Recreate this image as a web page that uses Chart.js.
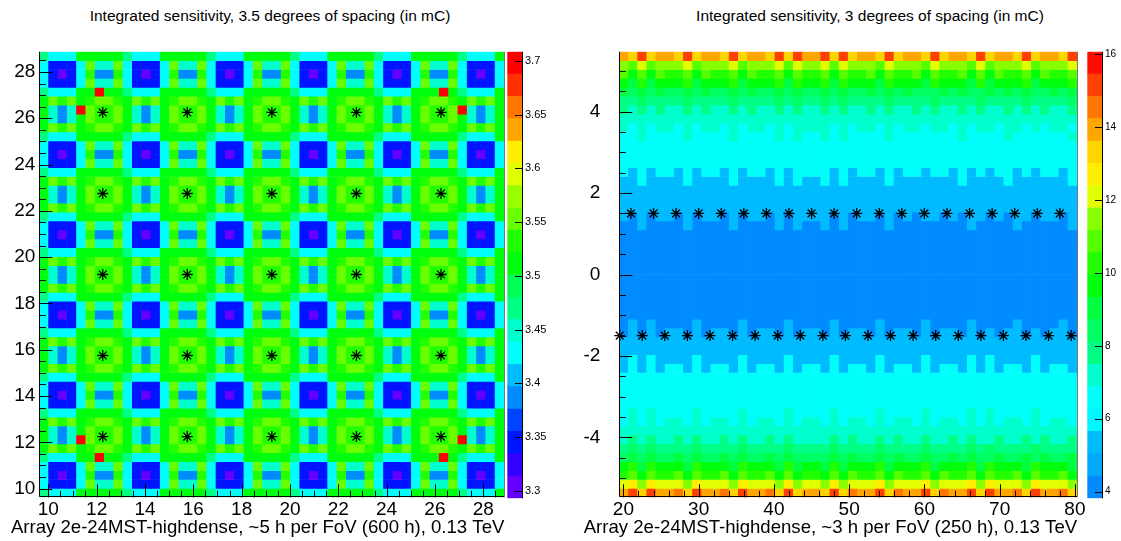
<!DOCTYPE html>
<html>
<head>
<meta charset="utf-8">
<title>Integrated sensitivity maps</title>
<script src="https://cdn.jsdelivr.net/npm/chart.js@4.4.1/dist/chart.umd.min.js"></script>
<style>
  html, body { margin: 0; padding: 0; background: #fff; }
  body { position: relative; width: 1121px; height: 541px; overflow: hidden;
         font-family: "Liberation Sans", Arial, sans-serif; }
  canvas { position: absolute; top: 0; }
  .title { position: absolute; top: 7px; font-size: 15.5px; line-height: 18px; white-space: nowrap;
           transform: translateX(-50%); color: #000; }
</style>
</head>
<body>
<div class="title" style="left:270px">Integrated sensitivity, 3.5 degrees of spacing (in mC)</div>
<div class="title" style="left:870px">Integrated sensitivity, 3 degrees of spacing (in mC)</div>
<canvas id="mapA" width="540" height="541" style="left:0"></canvas>
<canvas id="paletteA" width="55" height="541" style="left:505px"></canvas>
<canvas id="mapB" width="527" height="541" style="left:560px"></canvas>
<canvas id="paletteB" width="36" height="541" style="left:1085px"></canvas>
<script>
// ---------- 3.5 degree spacing map ----------
const mapA_xRange = [9.625, 28.875];
const mapA_yRange = [9.625, 28.875];
const mapA_zRange = [3.2932, 3.7084];
const mapA_xTicks = [10, 12, 14, 16, 18, 20, 22, 24, 26, 28];
const mapA_yTicks = [10, 12, 14, 16, 18, 20, 22, 24, 26, 28];
const mapA_zTicks = [3.3, 3.35, 3.4, 3.45, 3.5, 3.55, 3.6, 3.65, 3.7];
const mapA_starX = [12.25, 15.75, 19.25, 22.75, 26.25];
const mapA_starY = [12.25, 15.75, 19.25, 22.75, 26.25];
// contour level of each bin (0..j = 20 levels), top row first
const mapA_levels = [
  "8666aaaaa8666aaaaa8666aaaaa8666aaaaa8666aaaaa8666a",
  "62226c77c62226c77c62226c77c62226c77c62226c77c62226",
  "62026b44b62026b44b62026b44b62026b44b62026b44b62026",
  "62226c77c62226c77c62226c77c62226c77c62226c77c62226",
  "8666aajaa8666aaaaa8666aaaaa8666aaaaa8666aaaja8666a",
  "acbcabccbacbcabccbacbcabccbacbcabccbacbcabccbacbca",
  "a747jcbbca747acbbca747acbbca747acbbca747acbbcj747a",
  "a747acbbca747acbbca747acbbca747acbbca747acbbca747a",
  "acbcabccbacbcabccbacbcabccbacbcabccbacbcabccbacbca",
  "8666aaaaa8666aaaaa8666aaaaa8666aaaaa8666aaaaa8666a",
  "62226c77c62226c77c62226c77c62226c77c62226c77c62226",
  "62026b44b62026b44b62026b44b62026b44b62026b44b62026",
  "62226c77c62226c77c62226c77c62226c77c62226c77c62226",
  "8666aaaaa8666aaaaa8666aaaaa8666aaaaa8666aaaaa8666a",
  "acbcabccbacbcabccbacbcabccbacbcabccbacbcabccbacbca",
  "a747acbbca747acbbca747acbbca747acbbca747acbbca747a",
  "a747acbbca747acbbca747acbbca747acbbca747acbbca747a",
  "acbcabccbacbcabccbacbcabccbacbcabccbacbcabccbacbca",
  "8666aaaaa8666aaaaa8666aaaaa8666aaaaa8666aaaaa8666a",
  "62226c77c62226c77c62226c77c62226c77c62226c77c62226",
  "62026b44b62026b44b62026b44b62026b44b62026b44b62026",
  "62226c77c62226c77c62226c77c62226c77c62226c77c62226",
  "8666aaaaa8666aaaaa8666aaaaa8666aaaaa8666aaaaa8666a",
  "acbcabccbacbcabccbacbcabccbacbcabccbacbcabccbacbca",
  "a747acbbca747acbbca747acbbca747acbbca747acbbca747a",
  "a747acbbca747acbbca747acbbca747acbbca747acbbca747a",
  "acbcabccbacbcabccbacbcabccbacbcabccbacbcabccbacbca",
  "8666aaaaa8666aaaaa8666aaaaa8666aaaaa8666aaaaa8666a",
  "62226c77c62226c77c62226c77c62226c77c62226c77c62226",
  "62026b44b62026b44b62026b44b62026b44b62026b44b62026",
  "62226c77c62226c77c62226c77c62226c77c62226c77c62226",
  "8666aaaaa8666aaaaa8666aaaaa8666aaaaa8666aaaaa8666a",
  "acbcabccbacbcabccbacbcabccbacbcabccbacbcabccbacbca",
  "a747acbbca747acbbca747acbbca747acbbca747acbbca747a",
  "a747acbbca747acbbca747acbbca747acbbca747acbbca747a",
  "acbcabccbacbcabccbacbcabccbacbcabccbacbcabccbacbca",
  "8666aaaaa8666aaaaa8666aaaaa8666aaaaa8666aaaaa8666a",
  "62226c77c62226c77c62226c77c62226c77c62226c77c62226",
  "62026b44b62026b44b62026b44b62026b44b62026b44b62026",
  "62226c77c62226c77c62226c77c62226c77c62226c77c62226",
  "8666aaaaa8666aaaaa8666aaaaa8666aaaaa8666aaaaa8666a",
  "acbcabccbacbcabccbacbcabccbacbcabccbacbcabccbacbca",
  "a747acbbca747acbbca747acbbca747acbbca747acbbca747a",
  "a747jcbbca747acbbca747acbbca747acbbca747acbbcj747a",
  "acbcabccbacbcabccbacbcabccbacbcabccbacbcabccbacbca",
  "8666aajaa8666aaaaa8666aaaaa8666aaaaa8666aaaja8666a",
  "62226c77c62226c77c62226c77c62226c77c62226c77c62226",
  "62026b44b62026b44b62026b44b62026b44b62026b44b62026",
  "62226c77c62226c77c62226c77c62226c77c62226c77c62226",
  "8666aaaaa8666aaaaa8666aaaaa8666aaaaa8666aaaaa8666a"
];

// ---------- 3 degree spacing map ----------
const mapB_xRange = [19.45, 80.3];
const mapB_yRange = [-5.47, 5.47];
const mapB_zRange = [3.819, 16.06];
const mapB_xTicks = [20, 30, 40, 50, 60, 70, 80];
const mapB_yTicks = [-4, -2, 0, 2, 4];
const mapB_zTicks = [4, 6, 8, 10, 12, 14, 16];
const mapB_starTopX = [21, 24, 27, 30, 33, 36, 39, 42, 45, 48,
                       51, 54, 57, 60, 63, 66, 69, 72, 75, 78];
const mapB_starBottomX = [19.5, 22.5, 25.5, 28.5, 31.5, 34.5, 37.5, 40.5, 43.5, 46.5, 49.5,
                          52.5, 55.5, 58.5, 61.5, 64.5, 67.5, 70.5, 73.5, 76.5, 79.5];
const mapB_starRowsY = [1.5, -1.5];
const mapB_levels = [
  "gfifggfifggfifggfifiggififggfifggfifggfifggfifggfi",
  "cbdbcccdbcccdbcccdbdccdbdcccbdcccbdcccbdbcccdbcccd",
  "b9b9baab9baab9baab9baab9baab9baab9baab9b9baab9baab",
  "98a8999a8999a8999a8a99a8a9998a9998a9998a8999a8999a",
  "87878778787787877878778787787878777878778787877878",
  "66766667666676666767667676666766667666676666766667",
  "65656556565565655656556565565655656556565565656556",
  "55555555555555555555555555555555555555555555555555",
  "54545545455454554545555454554545545545455455454554",
  "44544445444454444545445454444544444445444454444445",
  "44444444444444444444444444444444444444444444444444",
  "44444444444444444444444444444444444444444444444444",
  "44444444444444444444444444444444444444444444444444",
  "42424424244242442424444242442424424424242442424424",
  "22422224222242222424224242222422222224222242222224",
  "22222222222222222222222222222222222222222222222222",
  "22222222222222222222222222222222222222222222222222",
  "22222222222222222222222222222222222222222222222222",
  "20202202022020220202222020220202022020220202202202",
  "00200002000020000202002020000200000000200002000002",
  "00000000000000000000000000000000000000000000000000",
  "00000000000000000000000000000000000000000000000000",
  "00000000000000000000000000000000000000000000000000",
  "00000000000000000000000000000000000000000000000000",
  "00000000000000000000000000000000000000000000000000",
  "00000000000000000000000000000000000000000000000000",
  "00000000000000000000000000000000000000000000000000",
  "00000000000000000000000000000000000000000000000000",
  "00000000000000000000000000000000000000000000000000",
  "00000000000000000000000000000000000000000000000000",
  "02020000200002000020000200002000020000200002000020",
  "02020220202202022020220202202022020220202022020220",
  "22222222222222222222222222222222222222222222222222",
  "22222222222222222222222222222222222222222222222222",
  "24242222422224222242222422224222242222424222242222",
  "24242442424424244242442424424244242442424244242442",
  "44444444444444444444444444444444444444444444444444",
  "44444444444444444444444444444444444444444444444444",
  "44444444444444444444444444444444444444444444444444",
  "44444444444444444444444444444444444444444444444444",
  "45454444544445444454444544445444454444545444454444",
  "45454554545545455454554545545455454554545455454554",
  "55555555555555555555555555555555555555555555555555",
  "56565565655656556565555656556565565565655655656556",
  "67676666766667666676666766667666676666767666676666",
  "78787787877878778787777878778787787787877877878778",
  "9a8a9998a9998a9998a8998a8999a8999a8999a8a9998a9998",
  "ab9baab9baab9baab9b9aa9b9baab9baab9baab9baab9baab9",
  "decedddcedddcedddcecddcecdddecdddecdddecedddcedddc",
  "gifigghfigghfigghfifggfifhggifhggifhggifigghfigghf"
];

const N_LEVELS = 20;

// ROOT "pretty" palette: 50 hues from violet to red, sampled per contour level
function prettyPalette(n) {
  const out = [];
  for (let k = 0; k < n; k++) {
    const idx = Math.floor((k + 0.99) * 50 / n);
    out.push(`hsl(${280 - (idx + 1) * 5.6}, 100%, 50%)`);
  }
  return out;
}
const paletteA = prettyPalette(N_LEVELS);
// colour scale of the 3 degree map starts at azure
const paletteB = [207, 200, 196, 182, 179, 168, 151, 143, 135, 123,
                  112, 100, 88, 67, 56, 50, 39, 28, 15, 3].map(h => `hsl(${h}, 100%, 50%)`);

const FONT = '"Liberation Sans", Arial, sans-serif';
Chart.defaults.font.family = FONT;
Chart.defaults.color = '#000';
Chart.defaults.animation = false;

// inward ROOT-style tick marks, axis lines and the right-aligned x title
const rootFrame = {
  id: 'rootFrame',
  afterDatasetsDraw(chart, args, o) {
    const { ctx, chartArea: a, scales: { x, y } } = chart;
    ctx.save();
    ctx.strokeStyle = '#000';
    ctx.lineWidth = 1;
    ctx.beginPath();
    const each = (scale, step, major, fn) => {
      for (let i = Math.ceil(scale.min / step - 1e-6); i * step <= scale.max + 1e-9; i++) {
        const v = i * step;
        const isMajor = Math.abs(v / major - Math.round(v / major)) < 1e-6;
        fn(Math.round(scale.getPixelForValue(v)) + 0.5, isMajor);
      }
    };
    each(x, o.xMinor, o.xMajor, (px, big) => {
      ctx.moveTo(px, a.bottom);
      ctx.lineTo(px, a.bottom - (big ? o.majorLen : o.minorLen));
    });
    each(y, o.yMinor, o.yMajor, (py, big) => {
      ctx.moveTo(a.left, py);
      ctx.lineTo(a.left + (big ? o.majorLen : o.minorLen), py);
    });
    const l = Math.floor(a.left) + 0.5, b = Math.round(a.bottom) - 0.5;
    ctx.moveTo(l, a.top); ctx.lineTo(l, b); ctx.lineTo(a.right, b);
    ctx.stroke();
    ctx.strokeStyle = '#777';
    ctx.beginPath();
    ctx.moveTo(Math.round(a.right) + 0.5, a.top);
    ctx.lineTo(Math.round(a.right) + 0.5, a.bottom);
    ctx.stroke();

    ctx.fillStyle = '#000';
    ctx.font = `${o.titleSize}px ${FONT}`;
    ctx.textAlign = 'right';
    ctx.textBaseline = 'alphabetic';
    ctx.fillText(o.title, a.right, o.titleBaseline);
    ctx.restore();
  }
};

// tick marks on the right edge of a colour scale, pointing into the boxes
const paletteTicks = {
  id: 'paletteTicks',
  afterDatasetsDraw(chart, args, o) {
    const { ctx, chartArea: a, scales: { y } } = chart;
    ctx.save();
    ctx.strokeStyle = '#000';
    ctx.lineWidth = 1;
    ctx.beginPath();
    o.values.forEach(v => {
      const py = Math.round(y.getPixelForValue(v)) + 0.5;
      ctx.moveTo(a.right, py);
      ctx.lineTo(a.right - o.len, py);
    });
    const r = Math.round(a.right) + 0.5;
    ctx.moveTo(r, a.top); ctx.lineTo(r, a.bottom);
    ctx.stroke();
    ctx.restore();
  }
};

function fixedTicks(values) {
  return axis => { axis.ticks = values.map(v => ({ value: v })); };
}
const noTickMarks = { display: false, drawTicks: false };

function drawMap(id, m) {
  const nRow = m.levels.length, nCol = m.levels[0].length;
  const dx = (m.xRange[1] - m.xRange[0]) / nCol;
  const dy = (m.yRange[1] - m.yRange[0]) / nRow;
  const zStep = (m.zRange[1] - m.zRange[0]) / N_LEVELS;
  const colourOf = z => m.palette[Math.min(N_LEVELS - 1, Math.max(0, Math.floor((z - m.zRange[0]) / zStep)))];

  // one floating-bar dataset per row of bins
  const datasets = m.levels.map((row, r) => {
    const hi = m.yRange[1] - r * dy, lo = hi - dy;
    const data = [], colours = [];
    for (let c = 0; c < nCol; c++) {
      const z = m.zRange[0] + (parseInt(row[c], 36) + 0.5) * zStep;
      data.push({ x: m.xRange[0] + (c + 0.5) * dx, y: [lo, hi], z });
      colours.push(colourOf(z));
    }
    return { type: 'bar', data, backgroundColor: colours, borderWidth: 0,
             grouped: false, barPercentage: 1, categoryPercentage: 1, order: 1 };
  });
  datasets.push({ type: 'scatter', data: m.stars, order: 0, clip: false,
                  pointStyle: 'star', pointRadius: 5.5, pointBorderColor: '#000',
                  pointBackgroundColor: 'rgba(0,0,0,0)', pointBorderWidth: 1.3 });

  new Chart(document.getElementById(id), {
    type: 'bar',
    data: { datasets },
    options: {
      responsive: false, devicePixelRatio: 1, events: [],
      layout: { padding: m.padding },
      plugins: { legend: { display: false }, tooltip: { enabled: false },
                 rootFrame: Object.assign({ title: m.xTitle, titleSize: 18.6, titleBaseline: 533 }, m.frame) },
      scales: {
        x: { type: 'linear', offset: false, min: m.xRange[0], max: m.xRange[1],
             afterBuildTicks: fixedTicks(m.xTicks),
             afterFit: s => { s.height = m.xAxisHeight; },
             grid: noTickMarks, border: { display: false },
             ticks: { autoSkip: false, maxRotation: 0, padding: m.xTickPad, font: { size: 19 } } },
        y: { type: 'linear', min: m.yRange[0], max: m.yRange[1],
             afterBuildTicks: fixedTicks(m.yTicks),
             afterFit: s => { s.width = m.yAxisWidth; },
             grid: noTickMarks, border: { display: false },
             ticks: { autoSkip: false, padding: m.yTickPad, font: { size: 19 } } }
      }
    },
    plugins: [rootFrame]
  });
}

function drawPalette(id, p) {
  const step = (p.zRange[1] - p.zRange[0]) / N_LEVELS;
  const datasets = p.palette.map((col, k) => ({
    data: [[p.zRange[0] + k * step, p.zRange[0] + (k + 1) * step]],
    backgroundColor: col, borderWidth: 0, grouped: false,
    barPercentage: 1, categoryPercentage: 1
  }));
  new Chart(document.getElementById(id), {
    type: 'bar',
    data: { labels: ['z'], datasets },
    options: {
      responsive: false, devicePixelRatio: 1, events: [],
      layout: { padding: p.padding },
      plugins: { legend: { display: false }, tooltip: { enabled: false },
                 paletteTicks: { values: p.ticks, len: 7 } },
      scales: {
        x: { display: false },
        y: { position: 'right', min: p.zRange[0], max: p.zRange[1],
             afterBuildTicks: fixedTicks(p.ticks),
             afterFit: s => { s.width = p.axisWidth; },
             grid: noTickMarks, border: { display: false },
             ticks: { autoSkip: false, padding: 3, font: { size: p.fontSize },
                      callback: v => String(v) } }
      }
    },
    plugins: [paletteTicks]
  });
}

const starsA = [];
mapA_starY.forEach(y => mapA_starX.forEach(x => starsA.push({ x, y })));
const starsB = mapB_starTopX.map(x => ({ x, y: mapB_starRowsY[0] }))
  .concat(mapB_starBottomX.map(x => ({ x, y: mapB_starRowsY[1] })));

drawMap('mapA', {
  levels: mapA_levels, xRange: mapA_xRange, yRange: mapA_yRange, zRange: mapA_zRange,
  xTicks: mapA_xTicks, yTicks: mapA_yTicks, palette: paletteA, stars: starsA,
  xTitle: 'Array 2e-24MST-highdense, ~5 h per FoV (600 h), 0.13 TeV',
  padding: { left: 0, right: 35.6, top: 51.7, bottom: 0 },
  xAxisHeight: 43.7, yAxisWidth: 39.3, xTickPad: 1.5, yTickPad: 4,
  frame: { xMajor: 2, xMinor: 0.5, yMajor: 2, yMinor: 0.5, majorLen: 13, minorLen: 6.5 }
});
drawPalette('paletteA', {
  zRange: mapA_zRange, palette: paletteA, ticks: mapA_zTicks, fontSize: 11,
  padding: { left: 2.3, right: 0, top: 51.7, bottom: 42.7 }, axisWidth: 38
});

drawMap('mapB', {
  levels: mapB_levels, xRange: mapB_xRange, yRange: mapB_yRange, zRange: mapB_zRange,
  xTicks: mapB_xTicks, yTicks: mapB_yTicks, palette: paletteB, stars: starsB,
  xTitle: 'Array 2e-24MST-highdense, ~3 h per FoV (250 h), 0.13 TeV',
  padding: { left: 0, right: 2.5, top: 51.7, bottom: 0 },
  xAxisHeight: 43.7, yAxisWidth: 59.3, xTickPad: 1.5, yTickPad: 19,
  frame: { xMajor: 10, xMinor: 2, yMajor: 2, yMinor: 0.5, majorLen: 13, minorLen: 6.5 }
});
drawPalette('paletteB', {
  zRange: mapB_zRange, palette: paletteB, ticks: mapB_zTicks, fontSize: 10,
  padding: { left: 2.3, right: 0, top: 51.7, bottom: 42.7 }, axisWidth: 19
});
</script>
</body>
</html>
